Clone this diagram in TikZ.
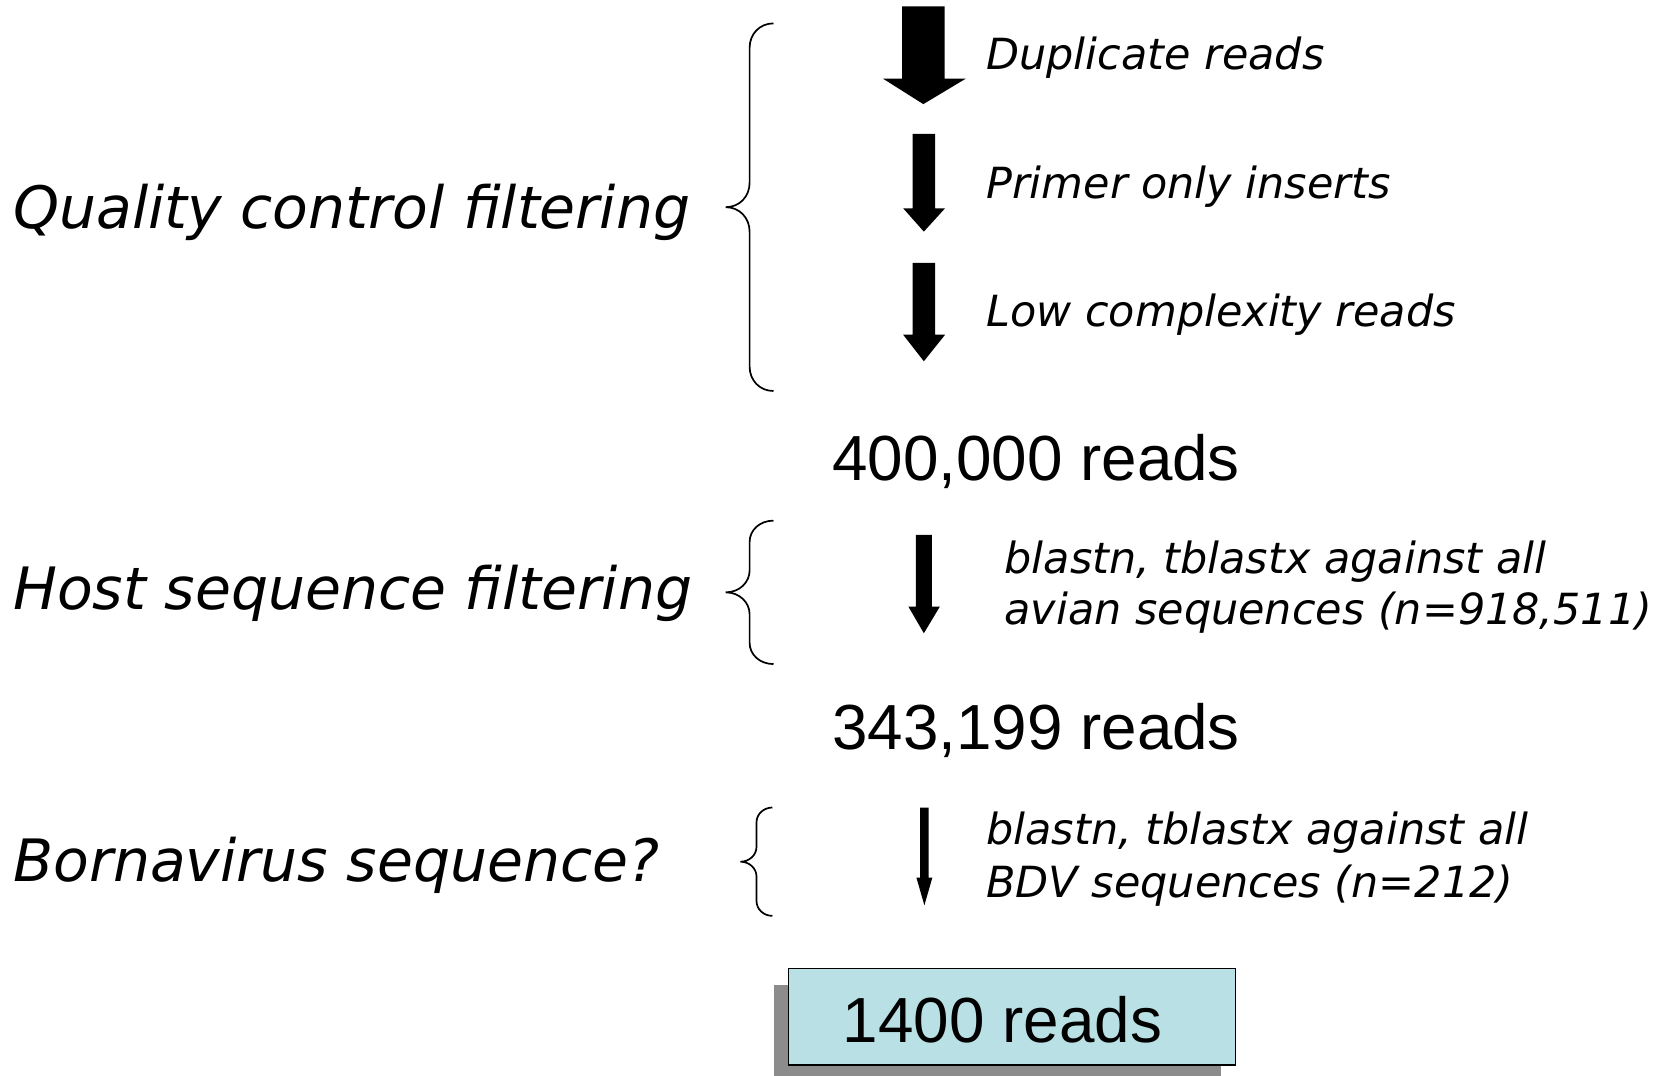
\documentclass[tikz,border=0pt]{standalone}
\usepackage{fontspec}
\setmainfont{DejaVu Sans}
\newfontfamily\readsfont{Liberation Sans}
\usepackage{tikz}
\usetikzlibrary{positioning,shadows}
\definecolor{boxcyan}{RGB}{185,224,228}
\definecolor{shadowgray}{RGB}{140,140,140}
\tikzset{
  stagelabel/.style={anchor=base west, inner sep=0pt, font=\fontsize{27.5}{33}\selectfont\itshape},
  filterlabel/.style={anchor=base west, inner sep=0pt, font=\fontsize{20.2}{24}\selectfont\itshape},
  readcount/.style={anchor=base west, inner sep=0pt, font=\fontsize{30}{36}\selectfont\readsfont},
  bracket/.style={line width=0.8pt},
}
\begin{document}
\begin{tikzpicture}[x=0.5pt,y=-0.5pt]
\useasboundingbox (0,0) rectangle (1568,1012);
% stage names on the left
\node[stagelabel] (quality) at (12,215) {Quality control filtering};
\node[stagelabel] (host) at (12,574) {Host sequence filtering};
\node[stagelabel] (borna) at (12,830) {Bornavirus sequence?};
% braces
\draw[bracket] (728,22) .. controls (715,22) and (705.5,32) .. (705.5,45) -- (705.5,172)
  .. controls (705.5,185) and (696,195) .. (683,195) .. controls (696,195) and (705.5,205) .. (705.5,218)
  -- (705.5,345) .. controls (705.5,358) and (715,368) .. (728,368);
\draw[bracket] (728,490) .. controls (715,490) and (705.5,499) .. (705.5,510) -- (705.5,537)
  .. controls (705.5,548) and (696,557.5) .. (683,557.5) .. controls (696,557.5) and (705.5,567) .. (705.5,578)
  -- (705.5,605) .. controls (705.5,616) and (715,625) .. (728,625);
\draw[bracket] (727,760) .. controls (719,760) and (712,766) .. (712,774) -- (712,797)
  .. controls (712,805) and (705,811) .. (697,811) .. controls (705,811) and (712,817) .. (712,825)
  -- (712,848) .. controls (712,856) and (719,862) .. (727,862);
% block arrows
\fill (849,6) -- (889,6) -- (889,74) -- (909,74) -- (869,98) -- (831,74) -- (849,74) -- cycle;
\fill (859,126) -- (880,126) -- (880,196) -- (889.5,196) -- (869.5,218) -- (850,196) -- (859,196) -- cycle;
\fill (859,247.5) -- (880,247.5) -- (880,315) -- (889.5,315) -- (869.5,340) -- (850,315) -- (859,315) -- cycle;
\fill (862,503.5) -- (877,503.5) -- (877,571) -- (884.5,571) -- (869.5,596) -- (855,571) -- (862,571) -- cycle;
\fill (866,760) -- (874,760) -- (874,826) -- (877.5,826) -- (870,852) -- (862.5,826) -- (866,826) -- cycle;
% what each step removes
\node[filterlabel] (dup) at (928,65) {Duplicate reads};
\node[filterlabel] (primer) at (928,187) {Primer only inserts};
\node[filterlabel] (lowcx) at (928,307) {Low complexity reads};
\node[filterlabel] (avian1) at (945,540) {blastn, tblastx against all};
\node[filterlabel] (avian2) at (945,588) {avian sequences (n=918,511)};
\node[filterlabel] (bdv1) at (928,795) {blastn, tblastx against all};
\node[filterlabel] (bdv2) at (928,845) {BDV sequences (n=212)};
% read counts
\node[readcount] (r400) at (783,452) {400,000 reads};
\node[readcount] (r343) at (783,705) {343,199 reads};
\node (final) [draw, fill=boxcyan, line width=0.7pt, anchor=north west, inner sep=0pt,
  minimum width=210.25pt, minimum height=45.25pt,
  drop shadow={shadow xshift=-7pt, shadow yshift=-7.5pt, fill=shadowgray, opacity=1}] at (741.5,911) {};
\node[readcount] (r1400) at (793,981) {1400 reads};
\end{tikzpicture}
\end{document}
